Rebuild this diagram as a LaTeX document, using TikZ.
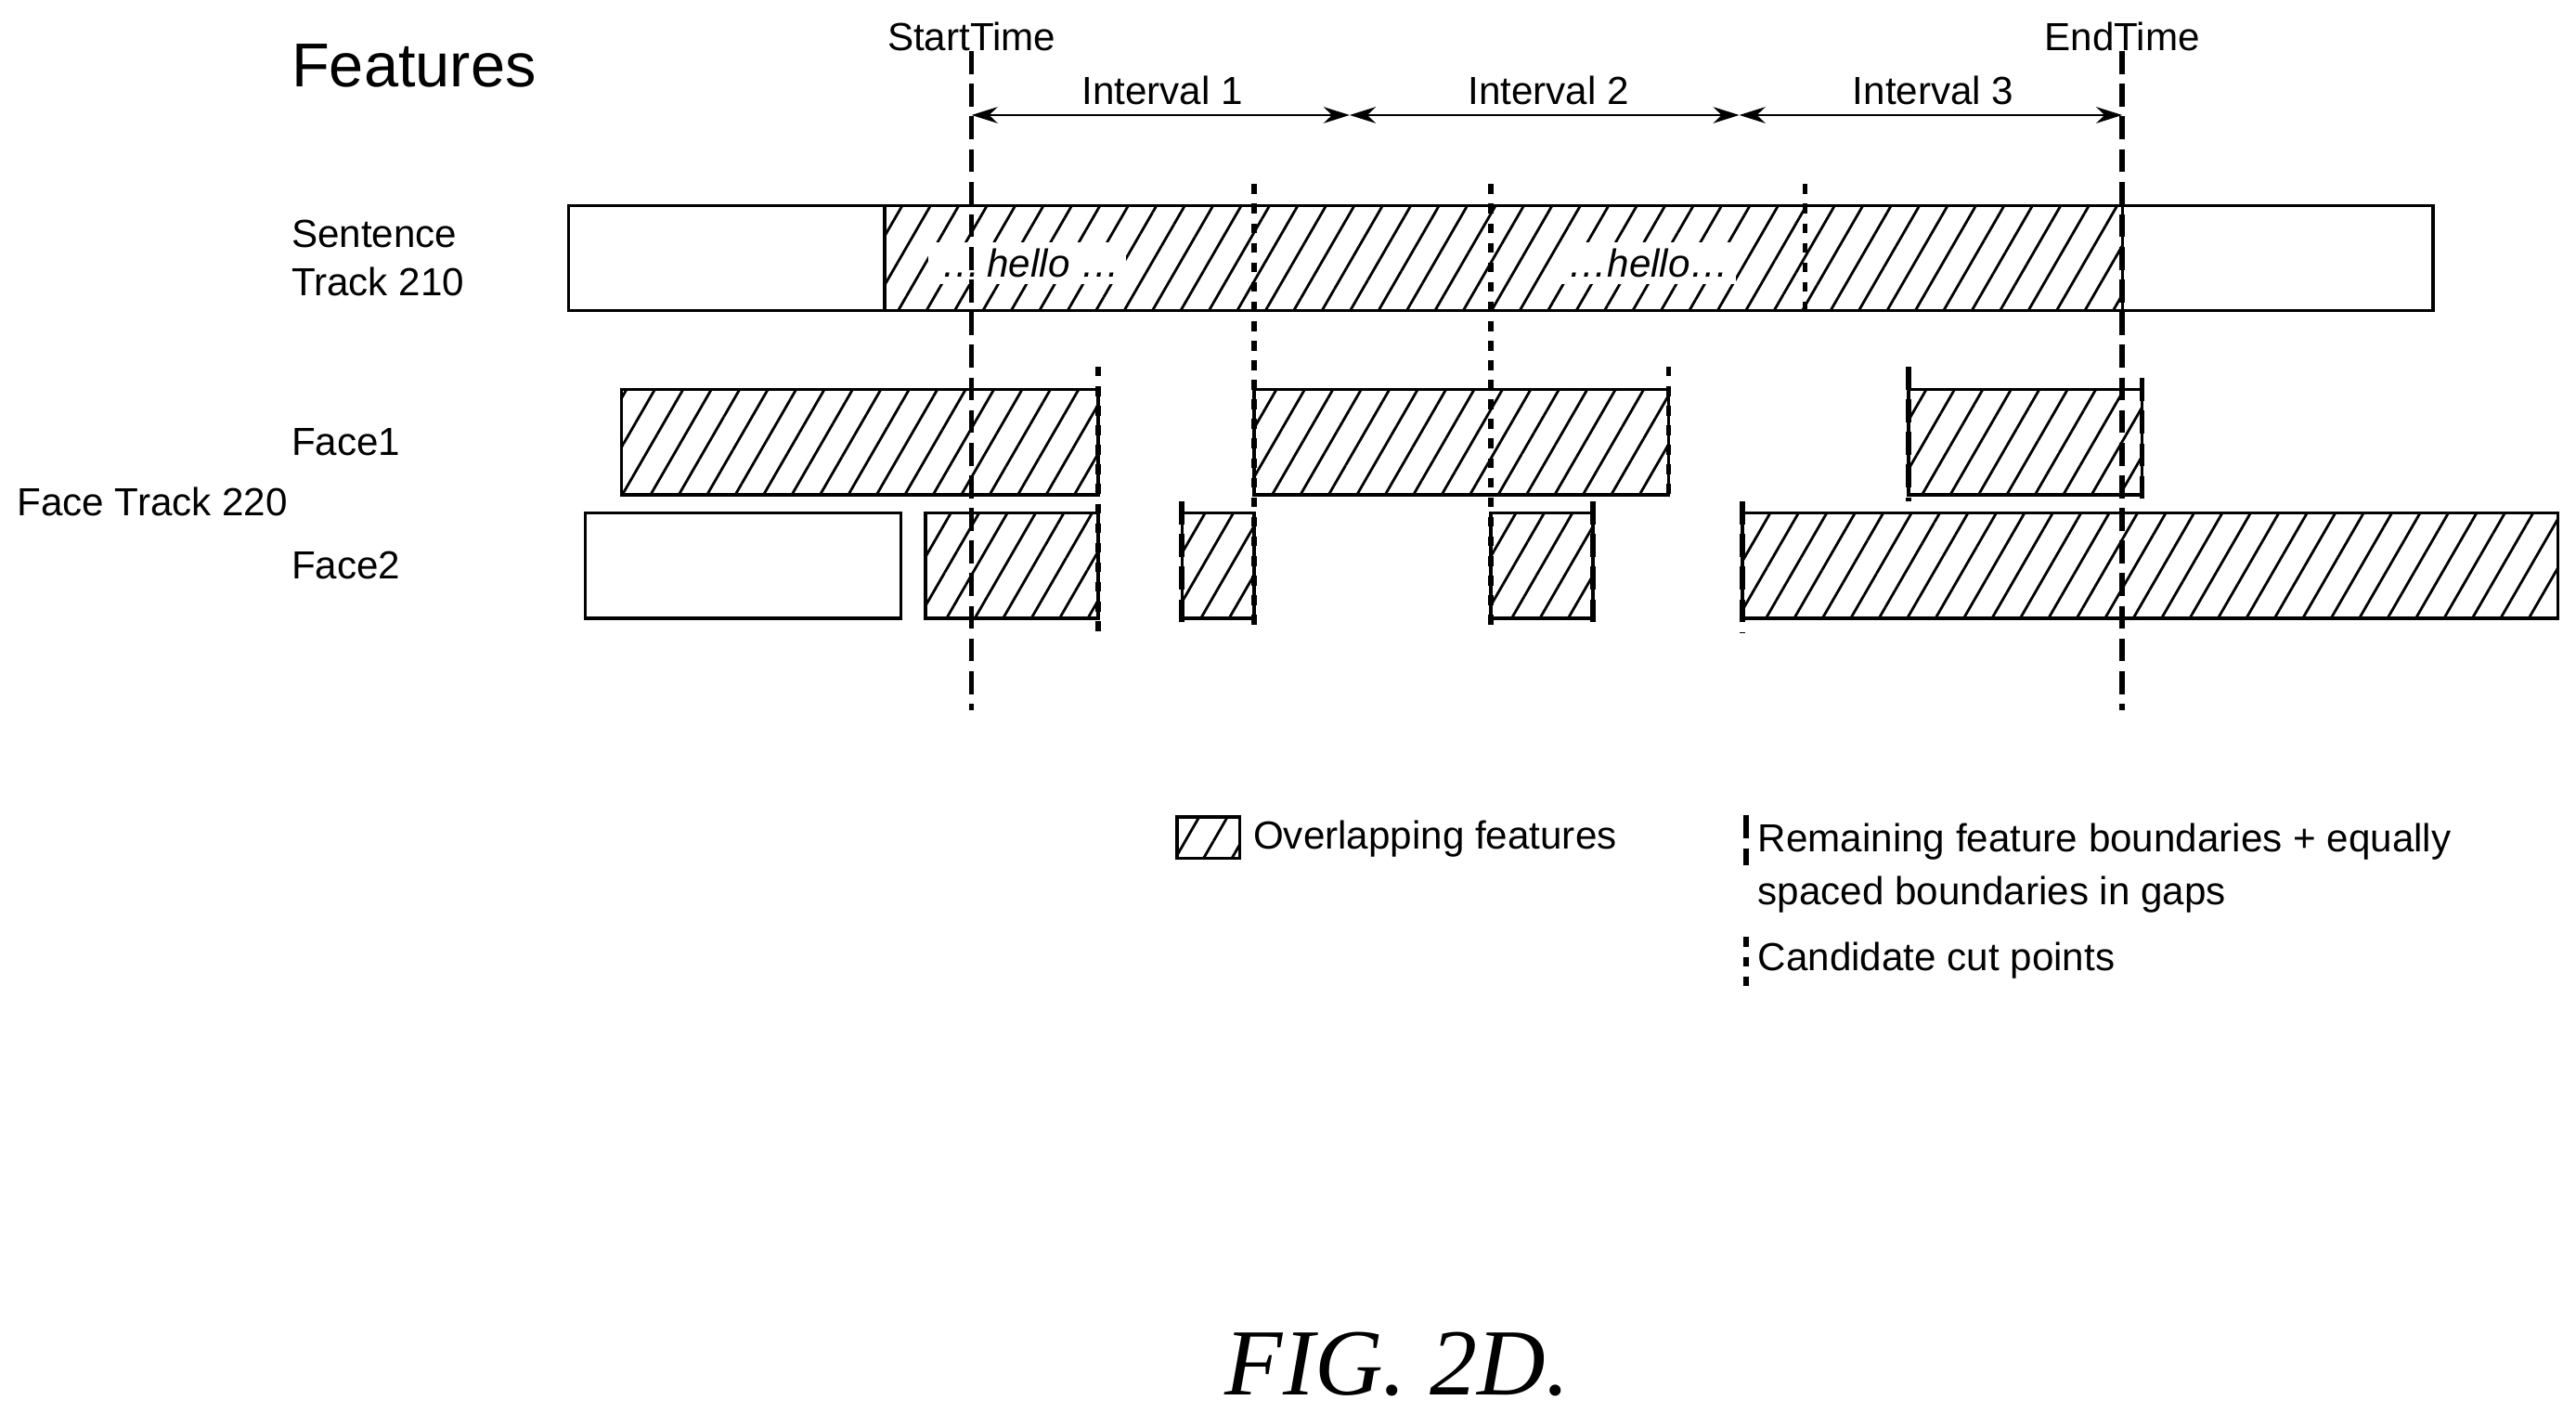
\documentclass[tikz,border=0pt]{standalone}
\usepackage{fontspec}
\setmainfont{Liberation Sans}
\newfontfamily\figfont{Liberation Serif}
\usetikzlibrary{arrows.meta,patterns.meta}

\tikzset{
  feat/.style={draw,line width=1pt},
  hatch/.style={feat,pattern={Lines[angle=60,distance=7.5pt,line width=0.8pt]}},
  cut/.style={line width=1.6pt,dash pattern=on 3pt off 3pt},
  bound/.style={line width=1.6pt,dash pattern=on 7pt off 3pt},
  lbl/.style={font=\fontsize{12}{14}\selectfont,inner sep=0pt},
}

\begin{document}
\begin{tikzpicture}[x=0.1771mm,y=-0.1771mm,>={Stealth[length=8pt,width=5pt]}]
%
  \useasboundingbox (0,0) rectangle (1567,867.3);
  \node[lbl,anchor=west,font=\fontsize{19}{22}\selectfont] (features) at (177,40) {Features};
  \node[lbl,anchor=west,align=left] (sent) at (177,157) {Sentence\\[1pt]Track 210};
  \node[lbl,anchor=west] (face1) at (177,269) {Face1};
  \node[lbl,anchor=west] (facetrack) at (10,305) {Face Track 220};
  \node[lbl,anchor=west] (face2) at (177,344) {Face2};
%
  % sentence track
  \draw[feat] (346,125) rectangle (1480,189);
  \draw[hatch] (538,125) rectangle (1291,189);
  \node[lbl,fill=white,font=\fontsize{12}{14}\selectfont\itshape,inner sep=2pt] (hello1) at (625,160) {\,…\,hello …};
  \node[lbl,fill=white,font=\fontsize{12}{14}\selectfont\itshape,inner sep=2pt] (hello2) at (1003,160) {…hello…};
  % face1
  \draw[hatch] (378,237) rectangle (668,301);
  \draw[hatch] (763,237) rectangle (1015,301);
  \draw[hatch] (1161,237) rectangle (1303,301);
  % face2
  \draw[feat] (356,312) rectangle (548,376);
  \draw[hatch] (563,312) rectangle (668,376);
  \draw[hatch] (719,312) rectangle (763,376);
  \draw[hatch] (907,312) rectangle (969,376);
  \draw[hatch] (1060,312) rectangle (1556,376);
%
  % start / end
  \node[lbl] (start) at (591,22) {StartTime};
  \node[lbl] (end) at (1291,22) {EndTime};
  \coordinate (startb) at (591,432);
  \coordinate (endb) at (1291,432);
  \draw[bound] (start.south) -- (startb);
  \draw[bound] (end.south) -- (endb);
  % intervals
  \coordinate (i0) at (591,70);
  \coordinate (i1) at (821,70);
  \coordinate (i2) at (1058,70);
  \coordinate (i3) at (1291,70);
  \draw[<->,line width=0.8pt] (i0) -- (i1);
  \draw[<->,line width=0.8pt] (i1) -- (i2);
  \draw[<->,line width=0.8pt] (i2) -- (i3);
  \node[lbl] (int1) at (707,55) {Interval 1};
  \node[lbl] (int2) at (942,55) {Interval 2};
  \node[lbl] (int3) at (1176,55) {Interval 3};
%
  % boundaries
  \foreach \x/\a/\b in {763/112/385,907/112/385,1098/112/195,668/223/385,1015/223/305}
    \draw[cut] (\x,\a) -- (\x,\b);
  \foreach \x/\a/\b in {1161/223/305,1303/230/305,719/305/380,969/305/380,1060/305/385}
    \draw[bound] (\x,\a) -- (\x,\b);
%
  % legend
  \draw[hatch] (716,497) rectangle (754,522);
  \node[lbl,anchor=west] (legover) at (762,510) {Overlapping features};
  \draw[bound] (1062,496) -- (1062,526);
  \node[lbl,anchor=west,align=left] (legbound) at (1069,528) {Remaining feature boundaries + equally\\[2pt]spaced boundaries in gaps};
  \draw[cut] (1062,570) -- (1062,604);
  \node[lbl,anchor=west] (legcut) at (1069,584) {Candidate cut points};
%
  \node[font=\figfont\itshape\fontsize{29}{32}\selectfont] (fig) at (850,830) {FIG. 2D.};
%
\end{tikzpicture}
\end{document}
